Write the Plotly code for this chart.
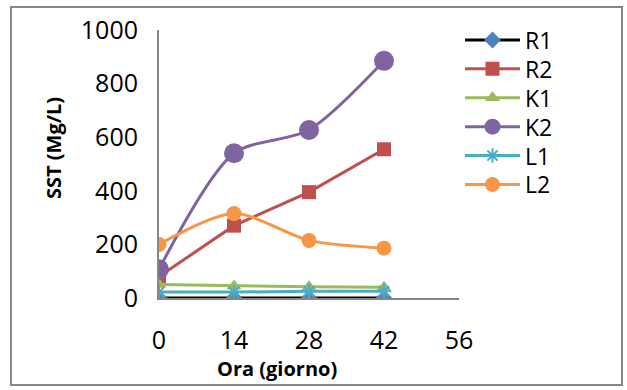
import plotly.graph_objects as go

days = [0, 14, 28, 42]
R1 = [0, 0, 0, 0]
R2 = [80, 270, 395, 555]
K1 = [50, 45, 42, 40]
K2 = [107, 540, 627, 885]
L1 = [22, 22, 25, 25]
L2 = [200, 315, 215, 186]
x_ticks = [0, 14, 28, 42, 56]
y_ticks = [0, 200, 400, 600, 800, 1000]

FONT = "Open Sans"
series = [
    ("R1", R1, "#000000", dict(symbol="diamond", size=13, color="#4F81BD"), "linear"),
    ("R2", R2, "#C0504D", dict(symbol="square", size=14, color="#C0504D"), "linear"),
    ("K1", K1, "#9BBB59", dict(symbol="triangle-up", size=13, color="#9BBB59"), "linear"),
    ("K2", K2, "#8064A2", dict(symbol="circle", size=20, color="#8064A2"), "spline"),
    ("L1", L1, "#4BACC6", dict(symbol="asterisk-open", size=12, color="#4BACC6",
                               line=dict(color="#4BACC6", width=2)), "linear"),
    ("L2", L2, "#F79646", dict(symbol="circle", size=15, color="#F79646"), "spline"),
]

L, R, T, B = 159, 168, 30, 92
W, H = 627, 390
pw, ph = W - L - R, H - T - B

def px(x):
    return (x - L) / pw

def py(y):
    return (H - B - y) / ph

fig = go.Figure()
legend_layout = {}
for i, (name, ys, lc, mk, shape) in enumerate(series):
    key = "legend" if i == 0 else f"legend{i + 1}"
    fig.add_trace(go.Scatter(x=days, y=ys, name=name, legend=key,
                             mode="lines+markers",
                             line=dict(color=lc, width=3, shape=shape, smoothing=0.8),
                             marker=mk))
    legend_layout[key] = dict(x=px(460), y=py(40 + 28.9 * i), xanchor="left",
                              yanchor="middle", font=dict(size=23, family=FONT),
                              itemwidth=55, bgcolor="rgba(0,0,0,0)",
                              borderwidth=0)

fig.update_layout(
    width=W, height=H,
    margin=dict(l=L, r=R, t=T, b=B),
    plot_bgcolor="white", paper_bgcolor="white",
    font=dict(family=FONT, color="#000000"),
    showlegend=True,
    xaxis=dict(range=[0, 56], tickvals=x_ticks, showgrid=False, zeroline=False,
               showline=True, linecolor="#868686", linewidth=2, ticks="",
               tickfont=dict(size=25, family=FONT), ticklabelstandoff=19,
               fixedrange=True),
    yaxis=dict(range=[0, 1000], tickvals=y_ticks, showgrid=False, zeroline=False,
               showline=True, linecolor="#868686", linewidth=2, ticks="",
               tickfont=dict(size=25, family=FONT), ticklabelstandoff=14,
               fixedrange=True),
    annotations=[
        dict(text="<b>Ora (giorno)</b>", x=px(277), y=py(368), xref="paper", yref="paper",
             xanchor="center", yanchor="middle",
             showarrow=False, font=dict(size=20, family=FONT)),
        dict(text="<b>SST (Mg/L)</b>", x=px(53), y=py(148), xref="paper", yref="paper",
             xanchor="center", yanchor="middle",
             showarrow=False, textangle=-90, font=dict(size=20, family=FONT)),
    ],
    shapes=[dict(type="rect", xref="paper", yref="paper",
                 x0=px(11), x1=px(622), y0=py(7), y1=py(385),
                 line=dict(color="#868686", width=2))],
    **legend_layout,
)

fig.write_html("out.html")
